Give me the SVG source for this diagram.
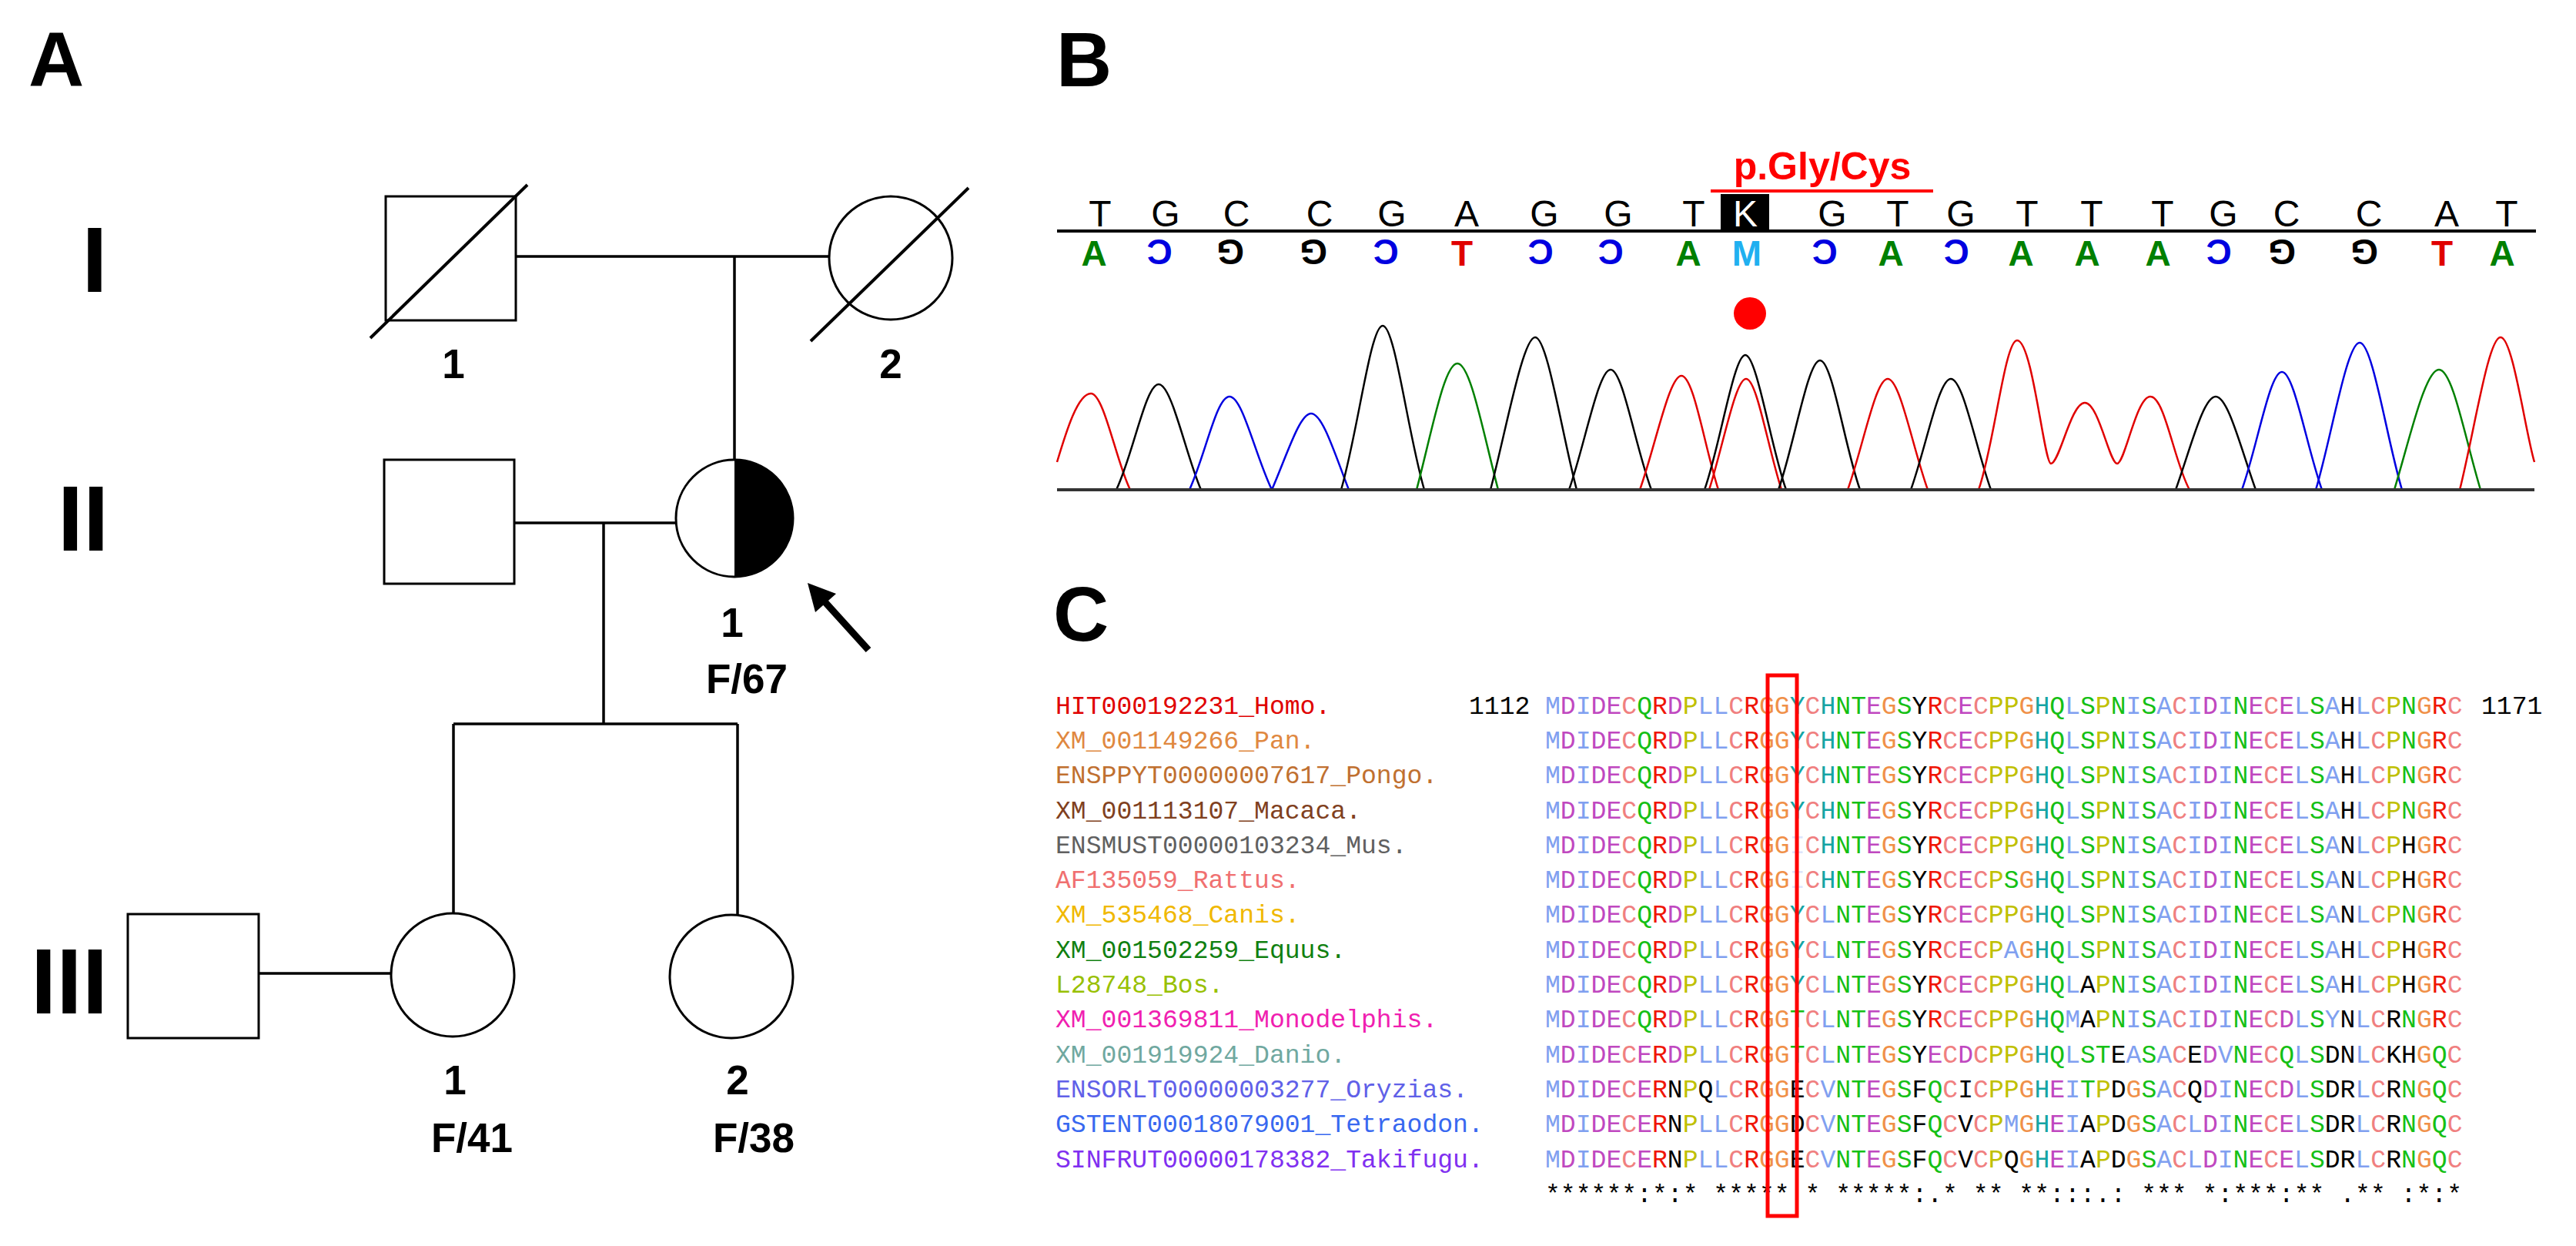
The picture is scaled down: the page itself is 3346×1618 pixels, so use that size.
<svg xmlns="http://www.w3.org/2000/svg" width="3346" height="1618" viewBox="0 0 3346 1618">
<style>
.pl{font-family:"Liberation Sans",Arial,sans-serif;font-weight:bold;fill:#000}
.ln{stroke:#000;stroke-width:3.5;fill:none}
.sh{stroke:#000;stroke-width:3;fill:#fff}
.b1{font-family:"Liberation Sans",Arial,sans-serif;font-size:48px;text-anchor:middle}
.b2{font-family:"Liberation Sans",Arial,sans-serif;font-size:46px;font-weight:bold;text-anchor:middle}
.pk{fill:none;stroke-width:2.5;stroke-linejoin:round}
.sq{font-family:"Liberation Mono","Courier New",monospace;font-size:33.1px}
.u{fill:#80a0f0}.m{fill:#c048c0}.c{fill:#f08080}.g{fill:#15c015}.r{fill:#f01505}.o{fill:#f09048}.y{fill:#c0c000}.t{fill:#15a4a4}.k{fill:#000}.w{fill:#dde4fb}
</style>
<rect width="3346" height="1618" fill="#fff"/>
<text class="pl" x="37" y="112" font-size="100">A</text>
<text class="pl" x="1372" y="112" font-size="100">B</text>
<text class="pl" x="1368" y="832" font-size="100">C</text>

<g id="gen-labels" class="pl" font-size="120" text-anchor="middle">
<text x="123" y="379">I</text><text x="108" y="715">II</text><text x="90" y="1316">III</text>
</g>
<g id="connectors">
<line class="ln" x1="670" y1="333" x2="1078" y2="333"/>
<line class="ln" x1="954" y1="333" x2="954" y2="597"/>
<line class="ln" x1="668" y1="679" x2="878" y2="679"/>
<line class="ln" x1="784" y1="679" x2="784" y2="940"/>
<line class="ln" x1="589" y1="940" x2="958" y2="940"/>
<line class="ln" x1="589" y1="940" x2="589" y2="1186"/>
<line class="ln" x1="958" y1="940" x2="958" y2="1189"/>
<line class="ln" x1="336" y1="1264" x2="508" y2="1264"/>
</g>
<g id="I-1"><rect class="sh" x="501" y="255" width="169" height="161"/><line x1="481" y1="439" x2="685" y2="240" stroke="#000" stroke-width="4"/><text class="pl" x="589" y="491" font-size="53" text-anchor="middle">1</text></g>
<g id="I-2"><circle class="sh" cx="1157" cy="335" r="80"/><line x1="1053" y1="443" x2="1258" y2="244" stroke="#000" stroke-width="4"/><text class="pl" x="1157" y="491" font-size="53" text-anchor="middle">2</text></g>
<g id="II-1"><rect class="sh" x="499" y="597" width="169" height="161"/></g>
<g id="II-2"><circle class="sh" cx="954" cy="673" r="76"/><path d="M954,597 A76,76 0 0 1 954,749 Z" fill="#000"/><text class="pl" x="951" y="827" font-size="53" text-anchor="middle">1</text><text class="pl" x="970" y="900" font-size="53" text-anchor="middle">F/67</text>
<line x1="1128" y1="844" x2="1070" y2="780" stroke="#000" stroke-width="9"/><polygon points="1049,757 1086,771 1059,795" fill="#000"/></g>
<g id="III-sp"><rect class="sh" x="166" y="1187" width="170" height="161"/></g>
<g id="III-1"><circle class="sh" cx="588" cy="1266" r="80"/><text class="pl" x="591" y="1421" font-size="53" text-anchor="middle">1</text><text class="pl" x="613" y="1496" font-size="53" text-anchor="middle">F/41</text></g>
<g id="III-2"><circle class="sh" cx="950" cy="1268" r="80"/><text class="pl" x="958" y="1421" font-size="53" text-anchor="middle">2</text><text class="pl" x="979" y="1496" font-size="53" text-anchor="middle">F/38</text></g>

<g id="panelB">
<text x="2367" y="233" font-family="Liberation Sans,Arial,sans-serif" font-size="50" font-weight="bold" fill="#f00" text-anchor="middle">p.Gly/Cys</text>
<line x1="2222" y1="248" x2="2511" y2="248" stroke="#f00" stroke-width="4"/>
<rect x="2235" y="252" width="63" height="49" fill="#000"/>
<g class="b1">
<text x="1429" y="294">T</text><text x="1514" y="294">G</text><text x="1606" y="294">C</text><text x="1714" y="294">C</text><text x="1808" y="294">G</text><text x="1905" y="294">A</text><text x="2006" y="294">G</text><text x="2102" y="294">G</text><text x="2200" y="294">T</text><text x="2267" y="294" fill="#fff">K</text><text x="2380" y="294">G</text><text x="2465" y="294">T</text><text x="2547" y="294">G</text><text x="2633" y="294">T</text><text x="2717" y="294">T</text><text x="2809" y="294">T</text><text x="2888" y="294">G</text><text x="2970" y="294">C</text><text x="3077" y="294">C</text><text x="3178" y="294">A</text><text x="3256" y="294">T</text>
</g>
<line x1="1373" y1="300" x2="3294" y2="300" stroke="#000" stroke-width="4"/>
<g class="b2">
<text x="1421" y="345" fill="#008000">A</text>
<text x="1506" y="345" fill="#0000e0" transform="rotate(180 1506 328)">C</text>
<text x="1598" y="345" fill="#000" transform="rotate(180 1598 328)">G</text>
<text x="1706" y="345" fill="#000" transform="rotate(180 1706 328)">G</text>
<text x="1800" y="345" fill="#0000e0" transform="rotate(180 1800 328)">C</text>
<text x="1899" y="345" fill="#e00000">T</text>
<text x="2001" y="345" fill="#0000e0" transform="rotate(180 2001 328)">C</text>
<text x="2092" y="345" fill="#0000e0" transform="rotate(180 2092 328)">C</text>
<text x="2193" y="345" fill="#008000">A</text>
<text x="2269" y="345" fill="#20b0f0">M</text>
<text x="2370" y="345" fill="#0000e0" transform="rotate(180 2370 328)">C</text>
<text x="2456" y="345" fill="#008000">A</text>
<text x="2541" y="345" fill="#0000e0" transform="rotate(180 2541 328)">C</text>
<text x="2625" y="345" fill="#008000">A</text>
<text x="2711" y="345" fill="#008000">A</text>
<text x="2803" y="345" fill="#008000">A</text>
<text x="2882" y="345" fill="#0000e0" transform="rotate(180 2882 328)">C</text>
<text x="2964" y="345" fill="#000" transform="rotate(180 2964 328)">G</text>
<text x="3071" y="345" fill="#000" transform="rotate(180 3071 328)">G</text>
<text x="3172" y="345" fill="#e00000">T</text>
<text x="3250" y="345" fill="#008000">A</text>
</g>
<circle cx="2273" cy="407" r="21" fill="#f00"/>
<g id="chromatogram">
<path class="pk" stroke="#e00000" d="M1373,600 C1385,560 1400,511 1417,511 C1434,511 1450,600 1468,636"/>
<path class="pk" stroke="#000" d="M1450,636 C1472,590 1488,499 1505,499 C1522,499 1540,590 1560,636"/>
<path class="pk" stroke="#0000e0" d="M1545,636 C1566,590 1580,515 1597,515 C1614,515 1630,590 1652,636"/>
<path class="pk" stroke="#0000e0" d="M1652,636 C1672,590 1688,537 1703,537 C1718,537 1734,590 1752,636"/>
<path class="pk" stroke="#000" d="M1742,636 C1764,560 1780,423 1796,423 C1812,423 1828,560 1850,636"/>
<path class="pk" stroke="#008000" d="M1840,636 C1860,560 1876,472 1893,472 C1910,472 1926,560 1946,636"/>
<path class="pk" stroke="#000" d="M1936,636 C1956,560 1978,438 1994,438 C2010,438 2028,560 2048,636"/>
<path class="pk" stroke="#000" d="M2038,636 C2058,580 2076,480 2092,480 C2108,480 2124,580 2145,636"/>
<path class="pk" stroke="#e00000" d="M2130,636 C2150,580 2168,488 2184,488 C2200,488 2214,580 2232,636"/>
<path class="pk" stroke="#000" d="M2214,636 C2234,580 2252,461 2267,461 C2282,461 2300,580 2320,636"/>
<path class="pk" stroke="#e00000" d="M2220,636 C2238,580 2254,492 2268,492 C2282,492 2296,580 2314,636"/>
<path class="pk" stroke="#000" d="M2310,636 C2330,580 2348,468 2364,468 C2380,468 2396,580 2416,636"/>
<path class="pk" stroke="#e00000" d="M2400,636 C2420,580 2436,492 2452,492 C2468,492 2484,580 2504,636"/>
<path class="pk" stroke="#000" d="M2482,636 C2502,580 2518,492 2534,492 C2550,492 2566,580 2586,636"/>
<path class="pk" stroke="#e00000" d="M2570,636 C2590,580 2604,442 2620,442 C2640,442 2655,602 2664,602 C2675,602 2690,523 2708,523 C2726,523 2740,602 2750,602 C2760,602 2775,515 2793,515 C2812,515 2824,600 2844,636"/>
<path class="pk" stroke="#000" d="M2826,636 C2846,580 2862,515 2878,515 C2894,515 2910,580 2930,636"/>
<path class="pk" stroke="#0000e0" d="M2912,636 C2932,580 2948,483 2964,483 C2980,483 2996,580 3016,636"/>
<path class="pk" stroke="#0000e0" d="M3008,636 C3028,570 3048,445 3065,445 C3082,445 3100,570 3120,636"/>
<path class="pk" stroke="#008000" d="M3110,636 C3130,570 3150,480 3168,480 C3186,480 3202,570 3222,636"/>
<path class="pk" stroke="#e00000" d="M3195,636 C3214,560 3232,438 3248,438 C3264,438 3280,560 3292,600"/>
<line x1="1373" y1="636" x2="3292" y2="636" stroke="#333" stroke-width="4"/>
</g>
</g>

<g id="panelC">
<g class="sq">
<text x="1371" y="927" fill="#e00000">HIT000192231_Homo.</text>
<text x="1371" y="972" fill="#e08840">XM_001149266_Pan.</text>
<text x="1371" y="1017" fill="#c07030">ENSPPYT00000007617_Pongo.</text>
<text x="1371" y="1063" fill="#804020">XM_001113107_Macaca.</text>
<text x="1371" y="1108" fill="#606060">ENSMUST00000103234_Mus.</text>
<text x="1371" y="1153" fill="#f07070">AF135059_Rattus.</text>
<text x="1371" y="1198" fill="#f0b800">XM_535468_Canis.</text>
<text x="1371" y="1244" fill="#108010">XM_001502259_Equus.</text>
<text x="1371" y="1289" fill="#98c000">L28748_Bos.</text>
<text x="1371" y="1334" fill="#f020b0">XM_001369811_Monodelphis.</text>
<text x="1371" y="1380" fill="#70a8a0">XM_001919924_Danio.</text>
<text x="1371" y="1425" fill="#6060e8">ENSORLT00000003277_Oryzias.</text>
<text x="1371" y="1470" fill="#3868f0">GSTENT00018079001_Tetraodon.</text>
<text x="1371" y="1516" fill="#8030f0">SINFRUT00000178382_Takifugu.</text>
<text x="1908" y="927" fill="#000">1112</text>
<text x="3223" y="927" fill="#000">1171</text>

<text x="2007" y="927"><tspan class="u">M</tspan><tspan class="m">D</tspan><tspan class="u">I</tspan><tspan class="m">DE</tspan><tspan class="c">C</tspan><tspan class="g">Q</tspan><tspan class="r">R</tspan><tspan class="m">D</tspan><tspan class="y">P</tspan><tspan class="u">LL</tspan><tspan class="c">C</tspan><tspan class="r">R</tspan><tspan class="o">GG</tspan><tspan class="t">Y</tspan><tspan class="c">C</tspan><tspan class="t">H</tspan><tspan class="g">NT</tspan><tspan class="m">E</tspan><tspan class="o">G</tspan><tspan class="g">S</tspan><tspan class="k">Y</tspan><tspan class="r">R</tspan><tspan class="c">C</tspan><tspan class="m">E</tspan><tspan class="c">C</tspan><tspan class="y">PP</tspan><tspan class="o">G</tspan><tspan class="t">H</tspan><tspan class="g">Q</tspan><tspan class="u">L</tspan><tspan class="g">S</tspan><tspan class="y">P</tspan><tspan class="g">N</tspan><tspan class="u">I</tspan><tspan class="g">S</tspan><tspan class="u">A</tspan><tspan class="c">C</tspan><tspan class="u">I</tspan><tspan class="m">D</tspan><tspan class="u">I</tspan><tspan class="g">N</tspan><tspan class="m">E</tspan><tspan class="c">C</tspan><tspan class="m">E</tspan><tspan class="u">L</tspan><tspan class="g">S</tspan><tspan class="u">A</tspan><tspan class="k">H</tspan><tspan class="u">L</tspan><tspan class="c">C</tspan><tspan class="y">P</tspan><tspan class="g">N</tspan><tspan class="o">G</tspan><tspan class="r">R</tspan><tspan class="c">C</tspan></text>
<text x="2007" y="972"><tspan class="u">M</tspan><tspan class="m">D</tspan><tspan class="u">I</tspan><tspan class="m">DE</tspan><tspan class="c">C</tspan><tspan class="g">Q</tspan><tspan class="r">R</tspan><tspan class="m">D</tspan><tspan class="y">P</tspan><tspan class="u">LL</tspan><tspan class="c">C</tspan><tspan class="r">R</tspan><tspan class="o">GG</tspan><tspan class="t">Y</tspan><tspan class="c">C</tspan><tspan class="t">H</tspan><tspan class="g">NT</tspan><tspan class="m">E</tspan><tspan class="o">G</tspan><tspan class="g">S</tspan><tspan class="k">Y</tspan><tspan class="r">R</tspan><tspan class="c">C</tspan><tspan class="m">E</tspan><tspan class="c">C</tspan><tspan class="y">PP</tspan><tspan class="o">G</tspan><tspan class="t">H</tspan><tspan class="g">Q</tspan><tspan class="u">L</tspan><tspan class="g">S</tspan><tspan class="y">P</tspan><tspan class="g">N</tspan><tspan class="u">I</tspan><tspan class="g">S</tspan><tspan class="u">A</tspan><tspan class="c">C</tspan><tspan class="u">I</tspan><tspan class="m">D</tspan><tspan class="u">I</tspan><tspan class="g">N</tspan><tspan class="m">E</tspan><tspan class="c">C</tspan><tspan class="m">E</tspan><tspan class="u">L</tspan><tspan class="g">S</tspan><tspan class="u">A</tspan><tspan class="k">H</tspan><tspan class="u">L</tspan><tspan class="c">C</tspan><tspan class="y">P</tspan><tspan class="g">N</tspan><tspan class="o">G</tspan><tspan class="r">R</tspan><tspan class="c">C</tspan></text>
<text x="2007" y="1017"><tspan class="u">M</tspan><tspan class="m">D</tspan><tspan class="u">I</tspan><tspan class="m">DE</tspan><tspan class="c">C</tspan><tspan class="g">Q</tspan><tspan class="r">R</tspan><tspan class="m">D</tspan><tspan class="y">P</tspan><tspan class="u">LL</tspan><tspan class="c">C</tspan><tspan class="r">R</tspan><tspan class="o">GG</tspan><tspan class="t">Y</tspan><tspan class="c">C</tspan><tspan class="t">H</tspan><tspan class="g">NT</tspan><tspan class="m">E</tspan><tspan class="o">G</tspan><tspan class="g">S</tspan><tspan class="k">Y</tspan><tspan class="r">R</tspan><tspan class="c">C</tspan><tspan class="m">E</tspan><tspan class="c">C</tspan><tspan class="y">PP</tspan><tspan class="o">G</tspan><tspan class="t">H</tspan><tspan class="g">Q</tspan><tspan class="u">L</tspan><tspan class="g">S</tspan><tspan class="y">P</tspan><tspan class="g">N</tspan><tspan class="u">I</tspan><tspan class="g">S</tspan><tspan class="u">A</tspan><tspan class="c">C</tspan><tspan class="u">I</tspan><tspan class="m">D</tspan><tspan class="u">I</tspan><tspan class="g">N</tspan><tspan class="m">E</tspan><tspan class="c">C</tspan><tspan class="m">E</tspan><tspan class="u">L</tspan><tspan class="g">S</tspan><tspan class="u">A</tspan><tspan class="k">H</tspan><tspan class="u">L</tspan><tspan class="c">C</tspan><tspan class="y">P</tspan><tspan class="g">N</tspan><tspan class="o">G</tspan><tspan class="r">R</tspan><tspan class="c">C</tspan></text>
<text x="2007" y="1063"><tspan class="u">M</tspan><tspan class="m">D</tspan><tspan class="u">I</tspan><tspan class="m">DE</tspan><tspan class="c">C</tspan><tspan class="g">Q</tspan><tspan class="r">R</tspan><tspan class="m">D</tspan><tspan class="y">P</tspan><tspan class="u">LL</tspan><tspan class="c">C</tspan><tspan class="r">R</tspan><tspan class="o">GG</tspan><tspan class="t">Y</tspan><tspan class="c">C</tspan><tspan class="t">H</tspan><tspan class="g">NT</tspan><tspan class="m">E</tspan><tspan class="o">G</tspan><tspan class="g">S</tspan><tspan class="k">Y</tspan><tspan class="r">R</tspan><tspan class="c">C</tspan><tspan class="m">E</tspan><tspan class="c">C</tspan><tspan class="y">PP</tspan><tspan class="o">G</tspan><tspan class="t">H</tspan><tspan class="g">Q</tspan><tspan class="u">L</tspan><tspan class="g">S</tspan><tspan class="y">P</tspan><tspan class="g">N</tspan><tspan class="u">I</tspan><tspan class="g">S</tspan><tspan class="u">A</tspan><tspan class="c">C</tspan><tspan class="u">I</tspan><tspan class="m">D</tspan><tspan class="u">I</tspan><tspan class="g">N</tspan><tspan class="m">E</tspan><tspan class="c">C</tspan><tspan class="m">E</tspan><tspan class="u">L</tspan><tspan class="g">S</tspan><tspan class="u">A</tspan><tspan class="k">H</tspan><tspan class="u">L</tspan><tspan class="c">C</tspan><tspan class="y">P</tspan><tspan class="g">N</tspan><tspan class="o">G</tspan><tspan class="r">R</tspan><tspan class="c">C</tspan></text>
<text x="2007" y="1108"><tspan class="u">M</tspan><tspan class="m">D</tspan><tspan class="u">I</tspan><tspan class="m">DE</tspan><tspan class="c">C</tspan><tspan class="g">Q</tspan><tspan class="r">R</tspan><tspan class="m">D</tspan><tspan class="y">P</tspan><tspan class="u">LL</tspan><tspan class="c">C</tspan><tspan class="r">R</tspan><tspan class="o">GG</tspan><tspan class="w">I</tspan><tspan class="c">C</tspan><tspan class="t">H</tspan><tspan class="g">NT</tspan><tspan class="m">E</tspan><tspan class="o">G</tspan><tspan class="g">S</tspan><tspan class="k">Y</tspan><tspan class="r">R</tspan><tspan class="c">C</tspan><tspan class="m">E</tspan><tspan class="c">C</tspan><tspan class="y">PP</tspan><tspan class="o">G</tspan><tspan class="t">H</tspan><tspan class="g">Q</tspan><tspan class="u">L</tspan><tspan class="g">S</tspan><tspan class="y">P</tspan><tspan class="g">N</tspan><tspan class="u">I</tspan><tspan class="g">S</tspan><tspan class="u">A</tspan><tspan class="c">C</tspan><tspan class="u">I</tspan><tspan class="m">D</tspan><tspan class="u">I</tspan><tspan class="g">N</tspan><tspan class="m">E</tspan><tspan class="c">C</tspan><tspan class="m">E</tspan><tspan class="u">L</tspan><tspan class="g">S</tspan><tspan class="u">A</tspan><tspan class="k">N</tspan><tspan class="u">L</tspan><tspan class="c">C</tspan><tspan class="y">P</tspan><tspan class="k">H</tspan><tspan class="o">G</tspan><tspan class="r">R</tspan><tspan class="c">C</tspan></text>
<text x="2007" y="1153"><tspan class="u">M</tspan><tspan class="m">D</tspan><tspan class="u">I</tspan><tspan class="m">DE</tspan><tspan class="c">C</tspan><tspan class="g">Q</tspan><tspan class="r">R</tspan><tspan class="m">D</tspan><tspan class="y">P</tspan><tspan class="u">LL</tspan><tspan class="c">C</tspan><tspan class="r">R</tspan><tspan class="o">GG</tspan><tspan class="w">I</tspan><tspan class="c">C</tspan><tspan class="t">H</tspan><tspan class="g">NT</tspan><tspan class="m">E</tspan><tspan class="o">G</tspan><tspan class="g">S</tspan><tspan class="k">Y</tspan><tspan class="r">R</tspan><tspan class="c">C</tspan><tspan class="m">E</tspan><tspan class="c">C</tspan><tspan class="y">P</tspan><tspan class="g">S</tspan><tspan class="o">G</tspan><tspan class="t">H</tspan><tspan class="g">Q</tspan><tspan class="u">L</tspan><tspan class="g">S</tspan><tspan class="y">P</tspan><tspan class="g">N</tspan><tspan class="u">I</tspan><tspan class="g">S</tspan><tspan class="u">A</tspan><tspan class="c">C</tspan><tspan class="u">I</tspan><tspan class="m">D</tspan><tspan class="u">I</tspan><tspan class="g">N</tspan><tspan class="m">E</tspan><tspan class="c">C</tspan><tspan class="m">E</tspan><tspan class="u">L</tspan><tspan class="g">S</tspan><tspan class="u">A</tspan><tspan class="k">N</tspan><tspan class="u">L</tspan><tspan class="c">C</tspan><tspan class="y">P</tspan><tspan class="k">H</tspan><tspan class="o">G</tspan><tspan class="r">R</tspan><tspan class="c">C</tspan></text>
<text x="2007" y="1198"><tspan class="u">M</tspan><tspan class="m">D</tspan><tspan class="u">I</tspan><tspan class="m">DE</tspan><tspan class="c">C</tspan><tspan class="g">Q</tspan><tspan class="r">R</tspan><tspan class="m">D</tspan><tspan class="y">P</tspan><tspan class="u">LL</tspan><tspan class="c">C</tspan><tspan class="r">R</tspan><tspan class="o">GG</tspan><tspan class="t">Y</tspan><tspan class="c">C</tspan><tspan class="u">L</tspan><tspan class="g">NT</tspan><tspan class="m">E</tspan><tspan class="o">G</tspan><tspan class="g">S</tspan><tspan class="k">Y</tspan><tspan class="r">R</tspan><tspan class="c">C</tspan><tspan class="m">E</tspan><tspan class="c">C</tspan><tspan class="y">PP</tspan><tspan class="o">G</tspan><tspan class="t">H</tspan><tspan class="g">Q</tspan><tspan class="u">L</tspan><tspan class="g">S</tspan><tspan class="y">P</tspan><tspan class="g">N</tspan><tspan class="u">I</tspan><tspan class="g">S</tspan><tspan class="u">A</tspan><tspan class="c">C</tspan><tspan class="u">I</tspan><tspan class="m">D</tspan><tspan class="u">I</tspan><tspan class="g">N</tspan><tspan class="m">E</tspan><tspan class="c">C</tspan><tspan class="m">E</tspan><tspan class="u">L</tspan><tspan class="g">S</tspan><tspan class="u">A</tspan><tspan class="k">N</tspan><tspan class="u">L</tspan><tspan class="c">C</tspan><tspan class="y">P</tspan><tspan class="g">N</tspan><tspan class="o">G</tspan><tspan class="r">R</tspan><tspan class="c">C</tspan></text>
<text x="2007" y="1244"><tspan class="u">M</tspan><tspan class="m">D</tspan><tspan class="u">I</tspan><tspan class="m">DE</tspan><tspan class="c">C</tspan><tspan class="g">Q</tspan><tspan class="r">R</tspan><tspan class="m">D</tspan><tspan class="y">P</tspan><tspan class="u">LL</tspan><tspan class="c">C</tspan><tspan class="r">R</tspan><tspan class="o">GG</tspan><tspan class="t">Y</tspan><tspan class="c">C</tspan><tspan class="u">L</tspan><tspan class="g">NT</tspan><tspan class="m">E</tspan><tspan class="o">G</tspan><tspan class="g">S</tspan><tspan class="k">Y</tspan><tspan class="r">R</tspan><tspan class="c">C</tspan><tspan class="m">E</tspan><tspan class="c">C</tspan><tspan class="y">P</tspan><tspan class="u">A</tspan><tspan class="o">G</tspan><tspan class="t">H</tspan><tspan class="g">Q</tspan><tspan class="u">L</tspan><tspan class="g">S</tspan><tspan class="y">P</tspan><tspan class="g">N</tspan><tspan class="u">I</tspan><tspan class="g">S</tspan><tspan class="u">A</tspan><tspan class="c">C</tspan><tspan class="u">I</tspan><tspan class="m">D</tspan><tspan class="u">I</tspan><tspan class="g">N</tspan><tspan class="m">E</tspan><tspan class="c">C</tspan><tspan class="m">E</tspan><tspan class="u">L</tspan><tspan class="g">S</tspan><tspan class="u">A</tspan><tspan class="k">H</tspan><tspan class="u">L</tspan><tspan class="c">C</tspan><tspan class="y">P</tspan><tspan class="k">H</tspan><tspan class="o">G</tspan><tspan class="r">R</tspan><tspan class="c">C</tspan></text>
<text x="2007" y="1289"><tspan class="u">M</tspan><tspan class="m">D</tspan><tspan class="u">I</tspan><tspan class="m">DE</tspan><tspan class="c">C</tspan><tspan class="g">Q</tspan><tspan class="r">R</tspan><tspan class="m">D</tspan><tspan class="y">P</tspan><tspan class="u">LL</tspan><tspan class="c">C</tspan><tspan class="r">R</tspan><tspan class="o">GG</tspan><tspan class="t">Y</tspan><tspan class="c">C</tspan><tspan class="u">L</tspan><tspan class="g">NT</tspan><tspan class="m">E</tspan><tspan class="o">G</tspan><tspan class="g">S</tspan><tspan class="k">Y</tspan><tspan class="r">R</tspan><tspan class="c">C</tspan><tspan class="m">E</tspan><tspan class="c">C</tspan><tspan class="y">PP</tspan><tspan class="o">G</tspan><tspan class="t">H</tspan><tspan class="g">Q</tspan><tspan class="u">L</tspan><tspan class="k">A</tspan><tspan class="y">P</tspan><tspan class="g">N</tspan><tspan class="u">I</tspan><tspan class="g">S</tspan><tspan class="u">A</tspan><tspan class="c">C</tspan><tspan class="u">I</tspan><tspan class="m">D</tspan><tspan class="u">I</tspan><tspan class="g">N</tspan><tspan class="m">E</tspan><tspan class="c">C</tspan><tspan class="m">E</tspan><tspan class="u">L</tspan><tspan class="g">S</tspan><tspan class="u">A</tspan><tspan class="k">H</tspan><tspan class="u">L</tspan><tspan class="c">C</tspan><tspan class="y">P</tspan><tspan class="k">H</tspan><tspan class="o">G</tspan><tspan class="r">R</tspan><tspan class="c">C</tspan></text>
<text x="2007" y="1334"><tspan class="u">M</tspan><tspan class="m">D</tspan><tspan class="u">I</tspan><tspan class="m">DE</tspan><tspan class="c">C</tspan><tspan class="g">Q</tspan><tspan class="r">R</tspan><tspan class="m">D</tspan><tspan class="y">P</tspan><tspan class="u">LL</tspan><tspan class="c">C</tspan><tspan class="r">R</tspan><tspan class="o">GG</tspan><tspan class="g">T</tspan><tspan class="c">C</tspan><tspan class="u">L</tspan><tspan class="g">NT</tspan><tspan class="m">E</tspan><tspan class="o">G</tspan><tspan class="g">S</tspan><tspan class="k">Y</tspan><tspan class="r">R</tspan><tspan class="c">C</tspan><tspan class="m">E</tspan><tspan class="c">C</tspan><tspan class="y">PP</tspan><tspan class="o">G</tspan><tspan class="t">H</tspan><tspan class="g">Q</tspan><tspan class="u">M</tspan><tspan class="k">A</tspan><tspan class="y">P</tspan><tspan class="g">N</tspan><tspan class="u">I</tspan><tspan class="g">S</tspan><tspan class="u">A</tspan><tspan class="c">C</tspan><tspan class="u">I</tspan><tspan class="m">D</tspan><tspan class="u">I</tspan><tspan class="g">N</tspan><tspan class="m">E</tspan><tspan class="c">C</tspan><tspan class="m">D</tspan><tspan class="u">L</tspan><tspan class="g">S</tspan><tspan class="u">Y</tspan><tspan class="k">N</tspan><tspan class="u">L</tspan><tspan class="c">C</tspan><tspan class="k">R</tspan><tspan class="g">N</tspan><tspan class="o">G</tspan><tspan class="r">R</tspan><tspan class="c">C</tspan></text>
<text x="2007" y="1380"><tspan class="u">M</tspan><tspan class="m">D</tspan><tspan class="u">I</tspan><tspan class="m">DE</tspan><tspan class="c">C</tspan><tspan class="m">E</tspan><tspan class="r">R</tspan><tspan class="m">D</tspan><tspan class="y">P</tspan><tspan class="u">LL</tspan><tspan class="c">C</tspan><tspan class="r">R</tspan><tspan class="o">GG</tspan><tspan class="g">T</tspan><tspan class="c">C</tspan><tspan class="u">L</tspan><tspan class="g">NT</tspan><tspan class="m">E</tspan><tspan class="o">G</tspan><tspan class="g">S</tspan><tspan class="k">Y</tspan><tspan class="m">E</tspan><tspan class="c">C</tspan><tspan class="m">D</tspan><tspan class="c">C</tspan><tspan class="y">PP</tspan><tspan class="o">G</tspan><tspan class="t">H</tspan><tspan class="g">Q</tspan><tspan class="u">L</tspan><tspan class="g">ST</tspan><tspan class="k">E</tspan><tspan class="u">A</tspan><tspan class="g">S</tspan><tspan class="u">A</tspan><tspan class="c">C</tspan><tspan class="k">E</tspan><tspan class="m">D</tspan><tspan class="u">V</tspan><tspan class="g">N</tspan><tspan class="m">E</tspan><tspan class="c">C</tspan><tspan class="g">Q</tspan><tspan class="u">L</tspan><tspan class="g">S</tspan><tspan class="k">DN</tspan><tspan class="u">L</tspan><tspan class="c">C</tspan><tspan class="k">KH</tspan><tspan class="o">G</tspan><tspan class="g">Q</tspan><tspan class="c">C</tspan></text>
<text x="2007" y="1425"><tspan class="u">M</tspan><tspan class="m">D</tspan><tspan class="u">I</tspan><tspan class="m">DE</tspan><tspan class="c">C</tspan><tspan class="m">E</tspan><tspan class="r">R</tspan><tspan class="k">N</tspan><tspan class="y">P</tspan><tspan class="k">Q</tspan><tspan class="u">L</tspan><tspan class="c">C</tspan><tspan class="r">R</tspan><tspan class="o">GG</tspan><tspan class="k">E</tspan><tspan class="c">C</tspan><tspan class="u">V</tspan><tspan class="g">NT</tspan><tspan class="m">E</tspan><tspan class="o">G</tspan><tspan class="g">S</tspan><tspan class="k">F</tspan><tspan class="g">Q</tspan><tspan class="c">C</tspan><tspan class="k">I</tspan><tspan class="c">C</tspan><tspan class="y">PP</tspan><tspan class="o">G</tspan><tspan class="t">H</tspan><tspan class="m">E</tspan><tspan class="u">I</tspan><tspan class="g">T</tspan><tspan class="y">P</tspan><tspan class="k">D</tspan><tspan class="o">G</tspan><tspan class="g">S</tspan><tspan class="u">A</tspan><tspan class="c">C</tspan><tspan class="k">Q</tspan><tspan class="m">D</tspan><tspan class="u">I</tspan><tspan class="g">N</tspan><tspan class="m">E</tspan><tspan class="c">C</tspan><tspan class="m">D</tspan><tspan class="u">L</tspan><tspan class="g">S</tspan><tspan class="k">DR</tspan><tspan class="u">L</tspan><tspan class="c">C</tspan><tspan class="k">R</tspan><tspan class="g">N</tspan><tspan class="o">G</tspan><tspan class="g">Q</tspan><tspan class="c">C</tspan></text>
<text x="2007" y="1470"><tspan class="u">M</tspan><tspan class="m">D</tspan><tspan class="u">I</tspan><tspan class="m">DE</tspan><tspan class="c">C</tspan><tspan class="m">E</tspan><tspan class="r">R</tspan><tspan class="k">N</tspan><tspan class="y">P</tspan><tspan class="u">LL</tspan><tspan class="c">C</tspan><tspan class="r">R</tspan><tspan class="o">GG</tspan><tspan class="k">D</tspan><tspan class="c">C</tspan><tspan class="u">V</tspan><tspan class="g">NT</tspan><tspan class="m">E</tspan><tspan class="o">G</tspan><tspan class="g">S</tspan><tspan class="k">F</tspan><tspan class="g">Q</tspan><tspan class="c">C</tspan><tspan class="k">V</tspan><tspan class="c">C</tspan><tspan class="y">P</tspan><tspan class="u">M</tspan><tspan class="o">G</tspan><tspan class="t">H</tspan><tspan class="m">E</tspan><tspan class="u">I</tspan><tspan class="k">A</tspan><tspan class="y">P</tspan><tspan class="k">D</tspan><tspan class="o">G</tspan><tspan class="g">S</tspan><tspan class="u">A</tspan><tspan class="c">C</tspan><tspan class="u">L</tspan><tspan class="m">D</tspan><tspan class="u">I</tspan><tspan class="g">N</tspan><tspan class="m">E</tspan><tspan class="c">C</tspan><tspan class="m">E</tspan><tspan class="u">L</tspan><tspan class="g">S</tspan><tspan class="k">DR</tspan><tspan class="u">L</tspan><tspan class="c">C</tspan><tspan class="k">R</tspan><tspan class="g">N</tspan><tspan class="o">G</tspan><tspan class="g">Q</tspan><tspan class="c">C</tspan></text>
<text x="2007" y="1516"><tspan class="u">M</tspan><tspan class="m">D</tspan><tspan class="u">I</tspan><tspan class="m">DE</tspan><tspan class="c">C</tspan><tspan class="m">E</tspan><tspan class="r">R</tspan><tspan class="k">N</tspan><tspan class="y">P</tspan><tspan class="u">LL</tspan><tspan class="c">C</tspan><tspan class="r">R</tspan><tspan class="o">GG</tspan><tspan class="k">E</tspan><tspan class="c">C</tspan><tspan class="u">V</tspan><tspan class="g">NT</tspan><tspan class="m">E</tspan><tspan class="o">G</tspan><tspan class="g">S</tspan><tspan class="k">F</tspan><tspan class="g">Q</tspan><tspan class="c">C</tspan><tspan class="k">V</tspan><tspan class="c">C</tspan><tspan class="y">P</tspan><tspan class="k">Q</tspan><tspan class="o">G</tspan><tspan class="t">H</tspan><tspan class="m">E</tspan><tspan class="u">I</tspan><tspan class="k">A</tspan><tspan class="y">P</tspan><tspan class="k">D</tspan><tspan class="o">G</tspan><tspan class="g">S</tspan><tspan class="u">A</tspan><tspan class="c">C</tspan><tspan class="u">L</tspan><tspan class="m">D</tspan><tspan class="u">I</tspan><tspan class="g">N</tspan><tspan class="m">E</tspan><tspan class="c">C</tspan><tspan class="m">E</tspan><tspan class="u">L</tspan><tspan class="g">S</tspan><tspan class="k">DR</tspan><tspan class="u">L</tspan><tspan class="c">C</tspan><tspan class="k">R</tspan><tspan class="g">N</tspan><tspan class="o">G</tspan><tspan class="g">Q</tspan><tspan class="c">C</tspan></text>
<text x="2007" y="1561" fill="#000" xml:space="preserve">******:*:* ***** * *****:.* ** **:::.: *** *:***:** .** :*:*</text>
</g>
<rect x="2296" y="877" width="38" height="702" fill="none" stroke="#f00" stroke-width="5"/>
</g>
</svg>
